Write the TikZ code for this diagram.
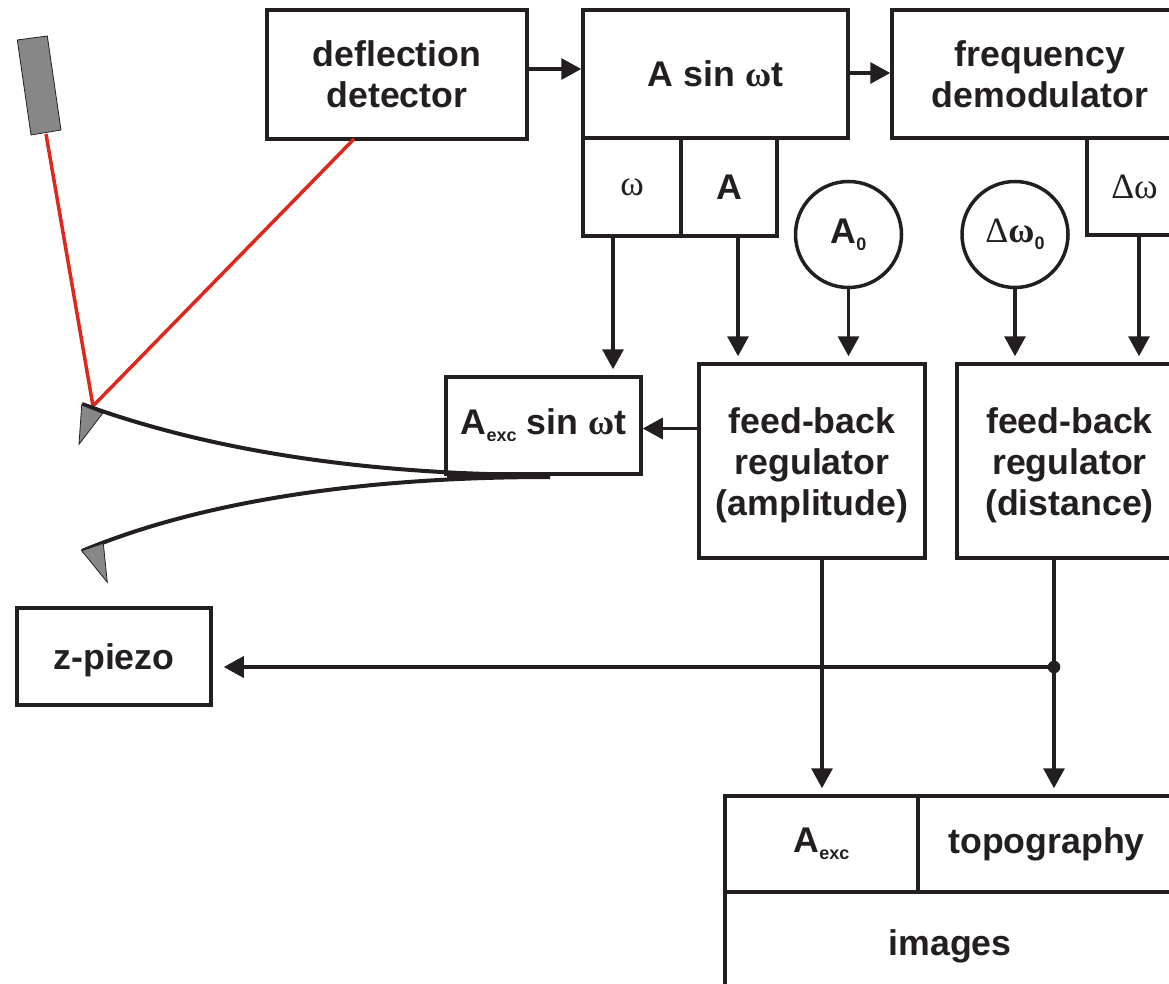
\documentclass[tikz,border=0pt]{standalone}
\usepackage{fontspec}
\setmainfont{Liberation Sans}
\newfontfamily\grk{Liberation Serif}
\usetikzlibrary{arrows.meta}

\definecolor{ink}{RGB}{35,31,32}
\definecolor{beamred}{RGB}{222,40,28}
\definecolor{partgray}{RGB}{135,135,135}

\newcommand\mylbl{\fontsize{35.7}{41}\selectfont\bfseries}
\newcommand\lowsub[1]{\raisebox{-7pt}{\fontsize{18}{18}\selectfont #1}}
% extra head room on a first line, to lower a block of text a little
\newcommand\topgap{\rule{0pt}{34pt}}

\begin{document}
\begin{tikzpicture}[x=1pt,y=-1pt,
  box/.style={draw=ink, line width=3.5pt, inner sep=0pt, align=center, font=\mylbl, text=ink},
  ring/.style={draw=ink, line width=3.5pt, circle, inner sep=0pt, minimum size=106pt, font=\mylbl, text=ink},
  arr/.style={draw=ink, line width=3.3pt, -{Triangle[length=20pt,width=21pt]}},
  beam/.style={draw=beamred, line width=3.5pt},
  lever/.style={draw=ink, line width=4pt},
  tip/.style={fill=partgray, draw=ink, line width=0.8pt}]
\useasboundingbox (0,0) rectangle (1169,984);
\clip (0,0) rectangle (1169,984);

% signal chain along the top
\node[box, minimum width=260pt, minimum height=129pt] (det) at (397,74.5) {deflection\\detector};
\node[box, minimum width=265pt, minimum height=128pt] (asin) at (715.5,74) {A sin {\grk ω}t};
\node[box, minimum width=98pt, minimum height=98pt] (wbox) at (632,187) {{\grk\mdseries ω}};
\node[box, minimum width=96pt, minimum height=98pt] (abox) at (729,187) {A};
\node[box, minimum width=296pt, minimum height=128pt] (fdem) at (1040,74) {frequency\\demodulator};
\node[box, minimum width=95pt, minimum height=97pt] (dwbox) at (1134.5,186.5) {{\grk\mdseries Δω}};

% set points
\node[ring] (a0) at (848.5,234.5) {A\lowsub{0}};
\node[ring] (dw0) at (1015,234.5) {{\grk\mdseries Δ}{\grk ω}\lowsub{0}};

% excitation and regulators
\node[box, minimum width=195pt, minimum height=97pt] (aexc) at (543.5,425.5) {A\lowsub{exc} sin {\grk ω}t};
\node[box, minimum width=226pt, minimum height=194pt] (amp) at (812,461) {\topgap feed-back\\regulator\\(amplitude)};
\node[box, minimum width=225pt, minimum height=194pt] (dist) at (1069.5,461) {\topgap feed-back\\regulator\\(distance)};

% piezo and image channels
\node[box, minimum width=194pt, minimum height=97pt, text depth=0pt] (zp) at (114,656.5) {z-piezo};
\node[box, minimum width=193pt, minimum height=96pt] (imga) at (821.5,844) {A\lowsub{exc}};
\node[box, minimum width=257pt, minimum height=96pt] (topo) at (1046.5,844) {topography};
\node[box, minimum width=450pt, minimum height=108pt] (imgs) at (950,946) {images};

% connector rows and columns
\coordinate (r1) at (0,69);
\coordinate (r2) at (0,73);
\coordinate (r3) at (0,428.5);
\coordinate (k1) at (613,0);
\coordinate (k2) at (738,0);
\coordinate (k5) at (1139,0);
\coordinate (k6) at (822,0);
\coordinate (k7) at (1054,0);
\coordinate (junc) at (1054,667);

\draw[arr] (det.east |- r1) -- (asin.west |- r1);
\draw[arr] (asin.east |- r2) -- (fdem.west |- r2);
\draw[arr, shorten >=6pt] (wbox.south -| k1) -- (aexc.north -| k1);
\draw[arr, shorten >=6pt] (abox.south -| k2) -- (amp.north -| k2);
\draw[arr, shorten >=6pt] (a0.south) -- (amp.north -| a0.south);
\draw[arr, shorten >=6pt] (dw0.south) -- (dist.north -| dw0.south);
\draw[arr, shorten >=6pt] (dwbox.south -| k5) -- (dist.north -| k5);
\draw[arr] (amp.west |- r3) -- (aexc.east |- r3);
\draw[arr, shorten >=6pt] (amp.south -| k6) -- (imga.north -| k6);
\draw[arr, shorten >=6pt] (dist.south -| k7) -- (topo.north -| k7);
\draw[arr, shorten >=11pt] (junc) -- (zp.east |- junc);
\fill[ink] (junc) circle (6.3pt);

% laser source and beam path
\coordinate (emit) at (46,134);
\coordinate (spot) at (93,406);
\coordinate (detin) at (354,139);
\filldraw[fill=partgray, draw=ink, line width=0.8pt] (17.3,40) -- (47.3,36) -- (61,130) -- (31,135) -- cycle;
\draw[beam] (emit) -- (spot) -- (detin);

% cantilever in its two bending positions
\fill[ink] (447,472.5) rectangle (550,478.5);
\draw[lever] (550,475) .. controls (330,475) and (180,440) .. (82,404);
\draw[lever] (550,477) .. controls (330,477) and (180,510) .. (82,551);
\draw[tip] (81.7,405) -- (102.7,413.3) -- (79,444.3) -- cycle;
\draw[tip] (81.7,550.7) -- (103.3,543.3) -- (107.3,582.3) -- cycle;
\end{tikzpicture}
\end{document}
